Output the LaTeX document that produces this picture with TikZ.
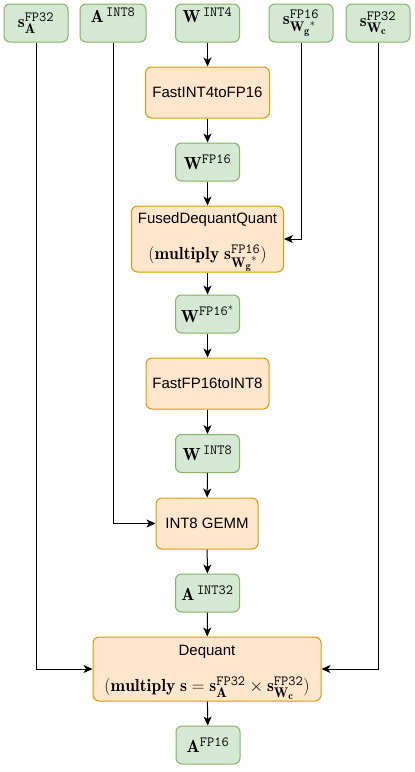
\RequirePackage{fix-cm}
\documentclass[tikz,border=0pt]{standalone}
\usepackage{amsmath}
\usepackage{fontspec}
\setsansfont{Liberation Sans}
\DeclareMathSizes{17.5}{17.5}{14}{10.5}
\usetikzlibrary{arrows.meta}
\definecolor{datafill}{HTML}{D5E8D4}
\definecolor{dataline}{HTML}{82B366}
\definecolor{opfill}{HTML}{FFE6CC}
\definecolor{opline}{HTML}{D79B00}
\newcommand{\mathsize}{\rmfamily\fontsize{17.5}{20}\selectfont}
\newcommand{\topstrut}{\rule{0pt}{17pt}}

\begin{document}
\begin{tikzpicture}[x=1pt,y=-1pt]
    \tikzstyle{box}=[draw, rounded corners=6pt, line width=1pt, inner sep=0pt, align=center]
    \tikzstyle{data}=[box, draw=dataline, fill=datafill, font=\mathsize, minimum width=64pt, minimum height=38pt]
    \tikzstyle{op}=[box, draw=opline, fill=opfill, font=\sffamily\fontsize{15}{18}\selectfont, minimum height=51pt]
    \tikzstyle{flow}=[-{Stealth[length=9pt,width=8pt,inset=2.5pt]}, line width=1pt]
    \useasboundingbox (0,0) rectangle (415,772);
    \node[data] (sa) at (36,23) {$\mathbf{s}^{\texttt{FP32}}_{\mathbf{A}}$};
    \node[data,minimum width=66pt,text depth=16pt] (aint) at (113,23) {$\mathbf{A}^{\,\texttt{INT8}}$};
    \node[data,text depth=16pt] (wint) at (207.5,23) {$\mathbf{W}^{\,\texttt{INT4}}$};
    \node[data] (swg) at (301,23) {$\mathbf{s}^{\texttt{FP16}}_{{\mathbf{W}_{\mathbf{g}}}^{*}}$};
    \node[data] (swc) at (378,23) {$\mathbf{s}^{\texttt{FP32}}_{\mathbf{W}_{\mathbf{c}}}$};
    \node[op,minimum width=124pt] (toFP) at (207.5,92.5) {FastINT4toFP16};
    \node[data] (wfp) at (207.5,162) {$\mathbf{W}^{\texttt{FP16}}$};
    \node[op,minimum width=152pt,minimum height=66pt] (fused) at (207.5,239) {\topstrut FusedDequantQuant\\[17pt]\mathsize $(\mathbf{multiply}\;\mathbf{s}^{\texttt{FP16}}_{{\mathbf{W}_{\mathbf{g}}}^{*}})$};
    \node[data] (wfps) at (207.5,314) {$\mathbf{W}^{\texttt{FP16}^{*}}$};
    \node[op,minimum width=123pt] (toINT) at (207.5,383.5) {FastFP16toINT8};
    \node[data] (wint8) at (207.5,453.5) {$\mathbf{W}^{\,\texttt{INT8}}$};
    \node[op,minimum width=102pt] (gemm) at (207,523.5) {INT8 GEMM};
    \node[data] (aint32) at (207.5,593) {$\mathbf{A}^{\,\texttt{INT32}}$};
    \node[op,minimum width=228pt,minimum height=64pt] (deq) at (207,669) {\topstrut Dequant\\[17pt]\mathsize $(\mathbf{multiply}\;\mathbf{s}=\mathbf{s}^{\texttt{FP32}}_{\mathbf{A}}\times\mathbf{s}^{\texttt{FP32}}_{\mathbf{W}_{\mathbf{c}}})$};
    \node[data] (afp) at (208,745) {$\mathbf{A}^{\texttt{FP16}}$};
    \draw[flow] (wint) -- (toFP);
    \draw[flow] (toFP) -- (wfp);
    \draw[flow] (wfp) -- (fused);
    \draw[flow] (fused) -- (wfps);
    \draw[flow] (wfps) -- (toINT);
    \draw[flow] (toINT) -- (wint8);
    \draw[flow] (wint8) -- (gemm);
    \draw[flow] (gemm) -- (aint32);
    \draw[flow] (aint32) -- (deq);
    \draw[flow] (deq) -- (afp);
    \draw[flow] (swg) |- (fused);
    \draw[flow] (aint) |- (gemm);
    \draw[flow] (sa) |- (deq);
    \draw[flow] (swc) |- (deq);
\end{tikzpicture}
\end{document}
